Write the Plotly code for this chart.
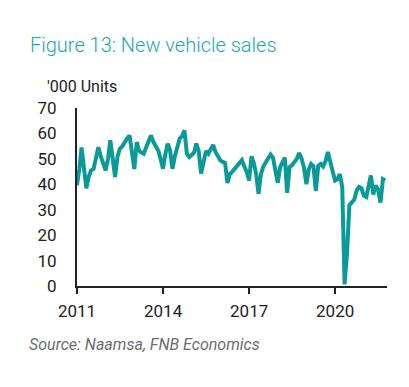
import calendar
import plotly.graph_objects as go

# Monthly new vehicle sales ('000 units), month-end values Dec 2010 .. Sep 2021
start_year, start_month, n_months = 2010, 12, 130
sales = [
    39.6,                                                                   # Dec 2010
    46, 54.5, 45, 38.4, 43, 45.5, 46, 50, 54.6, 51, 48, 45.5,               # 2011
    50, 57.3, 50, 42.9, 51, 54, 55, 56.7, 58, 59.2, 53, 46,                 # 2012
    56.6, 53.3, 52.5, 52, 54.6, 57, 59.2, 56.6, 55.3, 53.3, 50, 46.1,       # 2013
    52, 56, 53.3, 46.1, 51, 54.6, 57.9, 59, 61.2, 52, 50.7, 51.5,           # 2014
    52.5, 56, 53, 44.2, 49.4, 53, 52, 54, 55.5, 52.7, 50.7, 49.4,           # 2015
    48.8, 48.4, 40.5, 44, 45, 46, 47, 48, 49.5, 47, 45, 41.5,               # 2016
    51, 48.5, 44, 36.3, 44, 47, 48.5, 50, 51.7, 50.5, 46, 40.6,             # 2017
    46.8, 49, 50.5, 36.6, 46.8, 47.5, 48.5, 50, 52.3, 50, 46.5, 40,         # 2018
    46, 48, 47, 37.3, 47.3, 48, 47, 49, 52.7, 48, 45, 41.5,                 # 2019
    42, 44, 39, 0.6, 13, 31.8, 33, 34, 37.5, 39, 38.5, 35.5,                # 2020
    35, 39, 43.5, 36, 39.5, 38, 32.8, 42, 41.5,                             # 2021
]

dates = []
y, m = start_year, start_month
for _ in range(n_months):
    d = calendar.monthrange(y, m)[1]
    dates.append(f"{y:04d}-{m:02d}-{d:02d}")
    m += 1
    if m > 12:
        m, y = 1, y + 1

tick_vals = ["2011-01-01", "2014-01-01", "2017-01-01", "2020-01-01"]
tick_text = ["2011", "2014", "2017", "2020"]
y_ticks = [0, 10, 20, 30, 40, 50, 60, 70]

title_text = "Figure 13: New vehicle sales"
unit_text = "'000 Units"
source_text = "Source: Naamsa, FNB Economics"

LINE = "#0A9B98"
TITLE = "#1AA8B3"
AX = "#222222"
FONT = "Roboto"

# page body has an 8px margin: work in page coordinates, shift by OFF
OFF = 8
W, H = 409 - OFF, 387 - OFF
L = 77 - OFF
R = W - (386.7 - OFF)
T = 107.5 - OFF
B = H - (286 - OFF)
plot_w, plot_h = W - L - R, H - T - B


def px(xp):
    return (xp - OFF - L) / plot_w


def py(yp):
    return (H - B - (yp - OFF)) / plot_h


fig = go.Figure()
fig.add_trace(go.Scatter(
    x=dates, y=sales, mode="lines",
    line=dict(color=LINE, width=4),
    hoverinfo="skip", showlegend=False,
))

fig.update_layout(
    width=W, height=H,
    margin=dict(l=L, r=R, t=T, b=B, pad=0),
    paper_bgcolor="white", plot_bgcolor="white",
    font=dict(family=FONT, color=AX, size=16),
    xaxis=dict(
        type="date", range=["2011-01-01", "2021-10-22"],
        tickvals=tick_vals, ticktext=tick_text,
        showgrid=False, zeroline=False,
        showline=True, linecolor=AX, linewidth=2,
        ticks="outside", ticklen=6, tickwidth=2, tickcolor=AX,
        tickfont=dict(size=17, color=AX),
        ticklabelstandoff=3,
    ),
    yaxis=dict(
        range=[0, 70], tickvals=y_ticks,
        showgrid=False, zeroline=False,
        showline=True, linecolor=AX, linewidth=2,
        ticks="", tickfont=dict(size=17, color=AX),
        ticklabelstandoff=15,
    ),
    annotations=[
        dict(text=title_text, xref="paper", yref="paper",
             x=px(28), y=py(44),
             xanchor="left", yanchor="middle", showarrow=False,
             font=dict(family=FONT, size=20, color=TITLE, weight=300)),
        dict(text=unit_text, xref="paper", yref="paper",
             x=px(45), y=py(86),
             xanchor="left", yanchor="middle", showarrow=False,
             font=dict(family=FONT, size=16, color=AX)),
        dict(text="<i>" + source_text + "</i>", xref="paper", yref="paper",
             x=px(27), y=py(345),
             xanchor="left", yanchor="middle", showarrow=False,
             font=dict(family=FONT, size=16, color="#6B6D70")),
    ],
)

fig.write_html("out.html")
